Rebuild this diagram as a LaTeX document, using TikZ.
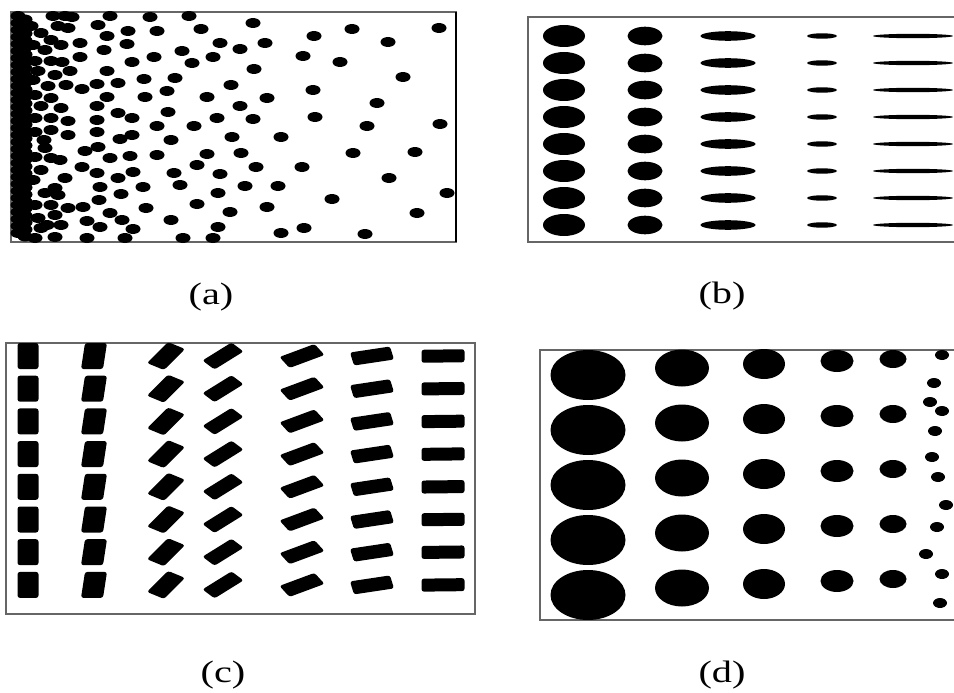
\documentclass[tikz,border=0pt]{standalone}
\usepackage{fontspec}
\setmainfont{Liberation Serif}
\usetikzlibrary{positioning}

\begin{document}
\begin{tikzpicture}[x=1pt,y=-1pt,
    frame/.style={draw=black!60,line width=1.5pt},
    grain/.style={fill=black,rounded corners=2.5pt},
    tag/.style={font=\fontsize{31}{36}\selectfont,xscale=1.3,inner sep=0pt}]
  \useasboundingbox (0,0) rectangle (954,693);
  \clip (0,0) rectangle (954,693);
  % (a) scattered particles
  \draw[frame] (11,12) rectangle (456,242);
  \foreach \y in {16,23,...,238} {
    \fill (18,\y) ellipse [x radius=7.5pt,y radius=5pt];
    \fill (25,\y+3.5) ellipse [x radius=7.5pt,y radius=5pt];
  }
  \foreach \x/\y in {31/26,41/33,53/16,65/16,72/17,58/26,68/28,51/40,61/45,45/50,
      35/61,51/61,38/71,55/75,66/85,48/86,35/95,51/98,61/108,41/106,35/118,51/118,
      68/121,35/132,51/130,68/135,45/148,35/157,51/158,41/170,65/178,55/188,45/193,
      58/195,35/205,51/205,68/208,38/218,55/215,41/228,61/225,35/238,55/237,
      33/45,33/80,44/140,33/180,47/225,60/160,62/62,
      110/16,98/25,128/31,107/36,127/44,104/50,132/62,80/43,80/57,107/71,70/71,
      118/83,97/84,82/89,107/97,97/106,118/113,132/118,97/120,97/132,120/139,
      132/135,98/147,85/151,110/158,130/156,82/167,97/173,118/178,133/172,100/187,
      121/194,99/200,83/207,110/213,122/220,87/221,133/229,87/238,125/238,100/227,
      189/16,150/17,201/29,157/31,220/43,240/49,182/51,213/57,192/63,154/57,
      175/78,144/79,167/91,207/97,145/97,168/112,217/118,194/126,157/126,171/140,
      207/154,157/155,197/165,220/174,174/173,180/185,143/187,218/193,197/204,
      146/208,171/220,
      439/28,352/29,253/23,314/36,388/42,265/43,303/56,340/62,254/69,403/77,
      231/85,313/90,267/98,377/103,240/106,315/117,253/119,440/124,367/126,
      281/137,232/137,353/153,415/152,241/153,302/167,256/167,389/178,278/186,
      245/186,447/193,332/199,267/207,230/212,417/213,304/228,281/233,365/234,
      218/227,213/238,183/238}
    \fill (\x,\y) ellipse [x radius=7.5pt,y radius=5pt];
  \draw[line width=2pt] (456,12) -- (456,242);
  \node[tag] (la) at (211,297) {(a)};
  % (b) stretched drops
  \draw[frame] (528,17) rectangle (970,242);
  \foreach \x/\rx/\ry in {564/21/11,645/17.5/9.3,728/27.5/4.8,822/15/2.7,913/40/2.2}
    \foreach \i in {0,...,7}
      \fill (\x,36+27*\i) ellipse [x radius=\rx pt,y radius=\ry pt];
  \node[tag] (lb) at (722,296) {(b)};
  % (c) turning fibres, long side u, short side v
  \draw[frame] (6,343) rectangle (475,614);
  \foreach \x/\ux/\uy/\vx/\vy in {28/0/-26/21/0,94/4/-26/22/0,166/21/-21/17/7,
      223/29/-18/12/9,302/35/-13/10/11,372/40/-6/4/13,443/43/-0.5/0/13}
    \foreach \i in {0,...,7}
      \fill[grain] ({\x-(\ux+\vx)/2},{356+32.7*\i-(\uy+\vy)/2})
        -- ++(\ux,\uy) -- ++(\vx,\vy) -- ++({-1*\ux},{-1*\uy}) -- cycle;
  \node[tag] (lc) at (223,675) {(c)};
  % (d) shrinking drops
  \draw[frame] (540,350) rectangle (970,620);
  \foreach \x/\y/\rx/\ry in {588/375/37.5/25,682/368/27/18.5,764/364/21/15,
      837/361/16.5/11,893/359/13.5/9}
    \foreach \i in {0,...,4}
      \fill (\x,\y+55*\i) ellipse [x radius=\rx pt,y radius=\ry pt];
  \foreach \x/\y in {942/355,934/383,930/402,942/411,935/431,932/457,938/477,
      946/505,937/527,926/554,942/574,940/603}
    \fill (\x,\y) ellipse [x radius=7pt,y radius=5pt];
  \node[tag] (ld) at (722,675) {(d)};
\end{tikzpicture}
\end{document}
